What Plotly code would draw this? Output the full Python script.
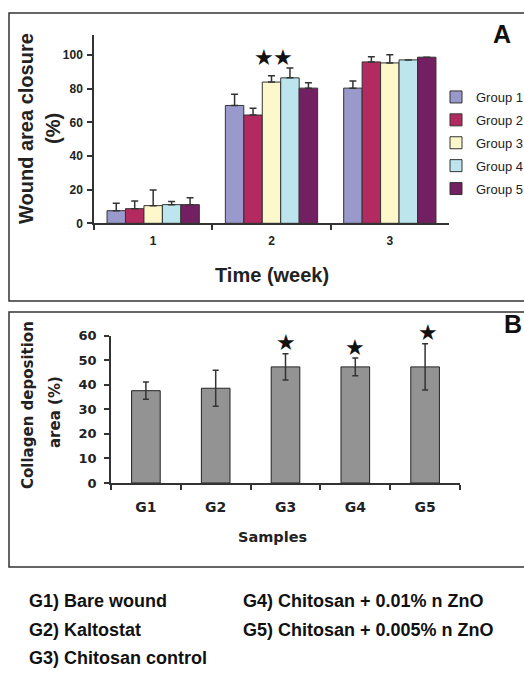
import plotly.graph_objects as go

# ---------------- data ----------------
weeks = ["1", "2", "3"]
group_names = ["Group 1", "Group 2", "Group 3", "Group 4", "Group 5"]
g1_vals = [7.5, 70.1, 80.4]
g2_vals = [8.7, 64.4, 96.0]
g3_vals = [10.5, 84.0, 95.4]
g4_vals = [11.1, 86.5, 97.2]
g5_vals = [11.1, 80.4, 98.8]
g1_err = [4.5, 6.7, 4.3]
g2_err = [4.6, 4.1, 3.0]
g3_err = [9.3, 3.7, 4.8]
g4_err = [1.8, 5.8, 0.0]
g5_err = [4.1, 3.2, 0.0]
group_colors = ["#9999CC", "#B22A60", "#FCF8CC", "#BDE5EE", "#732062"]
starred_week = "2"

samples = ["G1", "G2", "G3", "G4", "G5"]
collagen_vals = [37.6, 38.6, 47.3, 47.3, 47.3]
collagen_err = [3.5, 7.3, 5.3, 3.6, 9.4]
starred = ["G3", "G4", "G5"]

a_ticks = [0, 20, 40, 60, 80, 100]
b_ticks = [0, 10, 20, 30, 40, 50, 60]

notes_left = ["G1) Bare wound", "G2) Kaltostat", "G3) Chitosan control"]
notes_right = ["G4) Chitosan + 0.01% n ZnO", "G5) Chitosan + 0.005% n ZnO"]

# ---------------- figure ----------------
W, H = 524, 678
AR = "Liberation Sans, Arial, sans-serif"
DV = "DejaVu Sans, sans-serif"
INK = "#222222"

fig = go.Figure()

vals = [g1_vals, g2_vals, g3_vals, g4_vals, g5_vals]
errs = [g1_err, g2_err, g3_err, g4_err, g5_err]
for i, name in enumerate(group_names):
    fig.add_trace(go.Bar(
        x=weeks, y=vals[i], name=name, legendgroup=name,
        marker=dict(color=group_colors[i], line=dict(color="#333333", width=1)),
        error_y=dict(type="data", array=errs[i], arrayminus=[0] * len(errs[i]),
                     symmetric=False, color="#333333", thickness=1.5, width=3.5),
        xaxis="x", yaxis="y",
    ))

fig.add_trace(go.Bar(
    x=samples, y=collagen_vals, showlegend=False, width=0.41,
    marker=dict(color="#888888", line=dict(color="#222222", width=1),
                pattern=dict(shape=".", fgcolor="#404040", bgcolor="#ababab",
                             size=2, solidity=0.5)),
    error_y=dict(type="data", array=collagen_err, symmetric=True,
                 color="#333333", thickness=1.5, width=3),
    xaxis="x2", yaxis="y2",
))


def px_x(p):
    return p / W


def px_y(p):
    return 1 - p / H


axis_common = dict(showline=True, linecolor="#333333", linewidth=1.5,
                   ticks="outside", ticklen=5, tickcolor="#333333", tickwidth=1.5,
                   showgrid=False, zeroline=False, fixedrange=True)

fig.update_layout(
    width=W, height=H, margin=dict(l=0, r=0, t=0, b=0, autoexpand=False),
    paper_bgcolor="white", plot_bgcolor="white",
    barmode="group", bargap=0.22, bargroupgap=0,
    showlegend=True,
    legend=dict(x=px_x(436), y=px_y(82), xanchor="left", yanchor="top",
                font=dict(family=AR, size=13, color=INK),
                traceorder="grouped", tracegroupgap=3,
                bgcolor="rgba(0,0,0,0)", borderwidth=0, itemwidth=30),
    xaxis=dict(domain=[px_x(94), px_x(449)], anchor="y", type="category",
               tickson="boundaries", ticklabelstandoff=6,
               tickfont=dict(family=AR, size=12, color=INK, weight="bold"),
               **axis_common),
    yaxis=dict(domain=[px_y(223.3), px_y(35)], anchor="x", range=[0, 112],
               tickvals=a_ticks, ticklabelstandoff=2,
               tickfont=dict(family=AR, size=12, color=INK, weight="bold"),
               **axis_common),
    xaxis2=dict(domain=[px_x(111), px_x(460)], anchor="y2", type="category",
                tickson="boundaries", ticklabelstandoff=10,
                tickfont=dict(family=DV, size=14, color=INK, weight="bold"),
                **axis_common),
    yaxis2=dict(domain=[px_y(483), px_y(335.7)], anchor="x2", range=[0, 60],
                tickvals=b_ticks, ticklabelstandoff=5,
                tickfont=dict(family=DV, size=13, color=INK, weight="bold"),
                **axis_common),
)

# panel frames
for top, bot in [(13, 301), (312, 567)]:
    fig.add_shape(type="rect", xref="paper", yref="paper",
                  x0=px_x(9), x1=1.02, y0=px_y(bot), y1=px_y(top),
                  line=dict(color="#333333", width=1.5), fillcolor="rgba(0,0,0,0)",
                  layer="below")


def txt(text, x, y, size, family=AR, angle=0, xanchor="center", color=INK, bold=True):
    return dict(text=text, x=px_x(x), y=px_y(y), xref="paper", yref="paper",
                xanchor=xanchor, yanchor="middle", textangle=angle, showarrow=False,
                font=dict(family=family, size=size, color=color,
                          weight=("bold" if bold else "normal")))


ann = []
# panel A titles
ann.append(txt("Wound area closure", 26, 129, 20, angle=-90))
ann.append(txt("(%)", 53, 129, 20, angle=-90))
ann.append(txt("Time (week)", 272, 275, 20))
ann.append(txt("A", 502, 34, 25, color="#111111"))
# stars on panel A (week 2, groups 3 and 4)
wk = weeks.index(starred_week)
for xs in (-8, 11):
    ann.append(dict(text="★", x=wk, y=98.4, xref="x", yref="y", xshift=xs,
                    xanchor="center", yanchor="middle",
                    showarrow=False, font=dict(family=DV, size=22, color="#111111")))

# panel B titles
ann.append(txt("Collagen deposition", 28, 405, 15, family=DV, angle=-90))
ann.append(txt("area (%)", 55, 412, 15, family=DV, angle=-90))
ann.append(txt("Samples", 272, 537, 14.5, family=DV))
ann.append(txt("B", 502, 324, 25, xanchor="left", color="#111111"))
for s in starred:
    k = samples.index(s)
    ann.append(dict(text="★", x=k, y=collagen_vals[k] + collagen_err[k], xref="x2", yref="y2",
                    yshift=11, xshift=(3 if s == "G5" else 0), showarrow=False,
                    xanchor="center", yanchor="middle",
                    font=dict(family=DV, size=22, color="#111111")))

# legend notes at bottom
for i, t in enumerate(notes_left):
    ann.append(txt(t, 27, 601 + 28.5 * i, 18, xanchor="left", color="#111111"))
for i, t in enumerate(notes_right):
    ann.append(txt(t, 241, 601 + 28.5 * i, 18, xanchor="left", color="#111111"))

fig.update_layout(annotations=ann)

fig.write_html("out.html", config={"displayModeBar": False},
               post_script="document.body.style.margin='0';document.body.style.overflow='hidden';")
